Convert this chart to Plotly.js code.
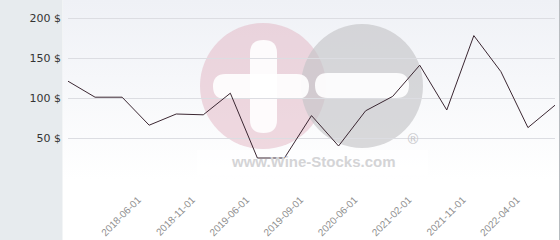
<!DOCTYPE html>
<html>
<head>
<meta charset="utf-8">
<script src="https://cdn.plot.ly/plotly-3.0.1.min.js"></script>
<style>html,body{margin:0;padding:0;background:#fff;}#chart{width:560px;height:240px;}</style>
</head>
<body>
<div id="chart"></div>
<script>
// Categories (dates); only every second one is labelled in the reference
const categories = [
  "2017-11-01","2018-01-01","2018-03-01","2018-06-01","2018-09-01","2018-11-01",
  "2019-02-01","2019-06-01","2019-07-01","2019-09-01","2020-01-01","2020-06-01",
  "2020-10-01","2021-02-01","2021-06-01","2021-11-01","2022-01-01","2022-04-01","2022-07-01"
];
const prices = [121, 101, 101, 66, 80, 79, 106, 25, 25, 78, 40, 84, 102, 141, 85, 178, 133, 63, 91];
const xTickLabels = ["2018-06-01","2018-11-01","2019-06-01","2019-09-01","2020-06-01","2021-02-01","2021-11-01","2022-04-01"];
const yTickVals = [0, 50, 100, 150, 200];
const yTickText = ["", "50 $", "100 $", "150 $", "200 $"];

const W = 560, H = 240, L = 68, R = 5, T = 0, B = 62;
const pw = W - L - R, ph = H - T - B;
const px = x => (x - L) / pw;          // pixel -> paper x
const py = y => 1 - (y - T) / ph;      // pixel -> paper y

const grad = 'data:image/svg+xml;utf8,' + encodeURIComponent(
  '<svg xmlns="http://www.w3.org/2000/svg" width="100" height="100" preserveAspectRatio="none">' +
  '<defs><linearGradient id="g" x1="0" y1="0" x2="0" y2="1">' +
  '<stop offset="0" stop-color="#eff1f6"/><stop offset="0.75" stop-color="#ffffff"/></linearGradient></defs>' +
  '<rect width="100" height="100" fill="url(#g)"/></svg>');

function roundBar(x0, x1, y0, y1) {
  const r = (y1 - y0) / 2;
  return {type: 'path', xref: 'paper', yref: 'paper', layer: 'below',
    fillcolor: '#ffffff', line: {width: 0}, opacity: 0.9,
    path: `M ${px(x0 + r)} ${py(y0)} L ${px(x1 - r)} ${py(y0)} ` +
          `Q ${px(x1)} ${py(y0)} ${px(x1)} ${py((y0 + y1) / 2)} ` +
          `Q ${px(x1)} ${py(y1)} ${px(x1 - r)} ${py(y1)} ` +
          `L ${px(x0 + r)} ${py(y1)} ` +
          `Q ${px(x0)} ${py(y1)} ${px(x0)} ${py((y0 + y1) / 2)} ` +
          `Q ${px(x0)} ${py(y0)} ${px(x0 + r)} ${py(y0)} Z`};
}

const shapes = [
  // left grey panel
  {type: 'rect', xref: 'paper', yref: 'paper', layer: 'below', x0: px(0), x1: px(62.5), y0: py(H), y1: py(0),
   fillcolor: '#e7ebee', line: {width: 0}},
  // right border
  {type: 'line', xref: 'paper', yref: 'paper', layer: 'below', x0: px(559.5), x1: px(559.5), y0: py(H), y1: py(0),
   line: {color: '#b8bcc0', width: 1}},
  // watermark circles
  {type: 'circle', xref: 'paper', yref: 'paper', layer: 'below', x0: px(200), x1: px(326), y0: py(23), y1: py(149),
   fillcolor: '#e2b4c1', opacity: 0.5, line: {width: 0}},
  {type: 'circle', xref: 'paper', yref: 'paper', layer: 'below', x0: px(301), x1: px(423), y0: py(24), y1: py(148),
   fillcolor: '#c4c4c7', opacity: 0.65, line: {width: 0}},
  // plus vertical bar
  {type: 'path', xref: 'paper', yref: 'paper', layer: 'below', fillcolor: '#ffffff', opacity: 0.9, line: {width: 0},
   path: `M ${px(250)} ${py(53)} Q ${px(250)} ${py(40)} ${px(263.5)} ${py(40)} Q ${px(277)} ${py(40)} ${px(277)} ${py(53)} ` +
         `L ${px(277)} ${py(120)} Q ${px(277)} ${py(133)} ${px(263.5)} ${py(133)} Q ${px(250)} ${py(133)} ${px(250)} ${py(120)} Z`},
  roundBar(213, 309, 74, 99),
  roundBar(315, 409, 73, 98),
  // light box behind watermark text
  {type: 'rect', xref: 'paper', yref: 'paper', layer: 'below', x0: px(197), x1: px(428), y0: py(175), y1: py(150),
   fillcolor: '#ffffff', opacity: 0.6, line: {width: 0}}
];

const data = [{
  type: 'scatter', mode: 'lines', x: categories, y: prices,
  line: {color: '#3b2732', width: 1}, hoverinfo: 'skip'
}];

const layout = {
  width: W, height: H,
  margin: {l: L, r: R, t: T, b: B, pad: 0},
  paper_bgcolor: '#ffffff', plot_bgcolor: 'rgba(0,0,0,0)',
  showlegend: false,
  font: {family: 'DejaVu Sans', size: 11, color: '#333'},
  xaxis: {
    type: 'category', range: [0, categories.length - 1],
    tickmode: 'array', tickvals: xTickLabels, ticktext: xTickLabels,
    tickangle: -45, tickfont: {family: 'Liberation Sans', size: 10, color: '#8f8f8f'},
    ticklabelstandoff: 13, ticklabelshift: -11,
    showgrid: false, zeroline: false, showline: false, ticks: ''
  },
  yaxis: {
    range: [0, (178 - T) / 0.8], tickmode: 'array', tickvals: yTickVals, ticktext: yTickText,
    tickfont: {size: 11, color: '#333'}, gridcolor: '#dcdde2', gridwidth: 1,
    zeroline: false, showline: false, ticks: '', ticklabelstandoff: 6
  },
  images: [{source: grad, xref: 'paper', yref: 'paper', x: px(62.5), y: py(0), sizex: px(559) - px(62.5),
            sizey: py(0) - py(H), xanchor: 'left', yanchor: 'top', sizing: 'stretch', layer: 'below'}],
  shapes: shapes,
  annotations: [
    {text: 'www.Wine-Stocks.com', xref: 'paper', yref: 'paper', x: px(313), y: py(161), showarrow: false,
     font: {family: 'Liberation Sans', size: 15, color: '#d4d4d6', weight: 'bold'}, xanchor: 'center', yanchor: 'middle'},
    {text: '®', xref: 'paper', yref: 'paper', x: px(413), y: py(139), showarrow: false,
     font: {family: 'DejaVu Sans', size: 14, color: '#c8c8cb'}, xanchor: 'center', yanchor: 'middle'}
  ]
};

Plotly.newPlot('chart', data, layout, {staticPlot: true, displayModeBar: false});
</script>
</body>
</html>
